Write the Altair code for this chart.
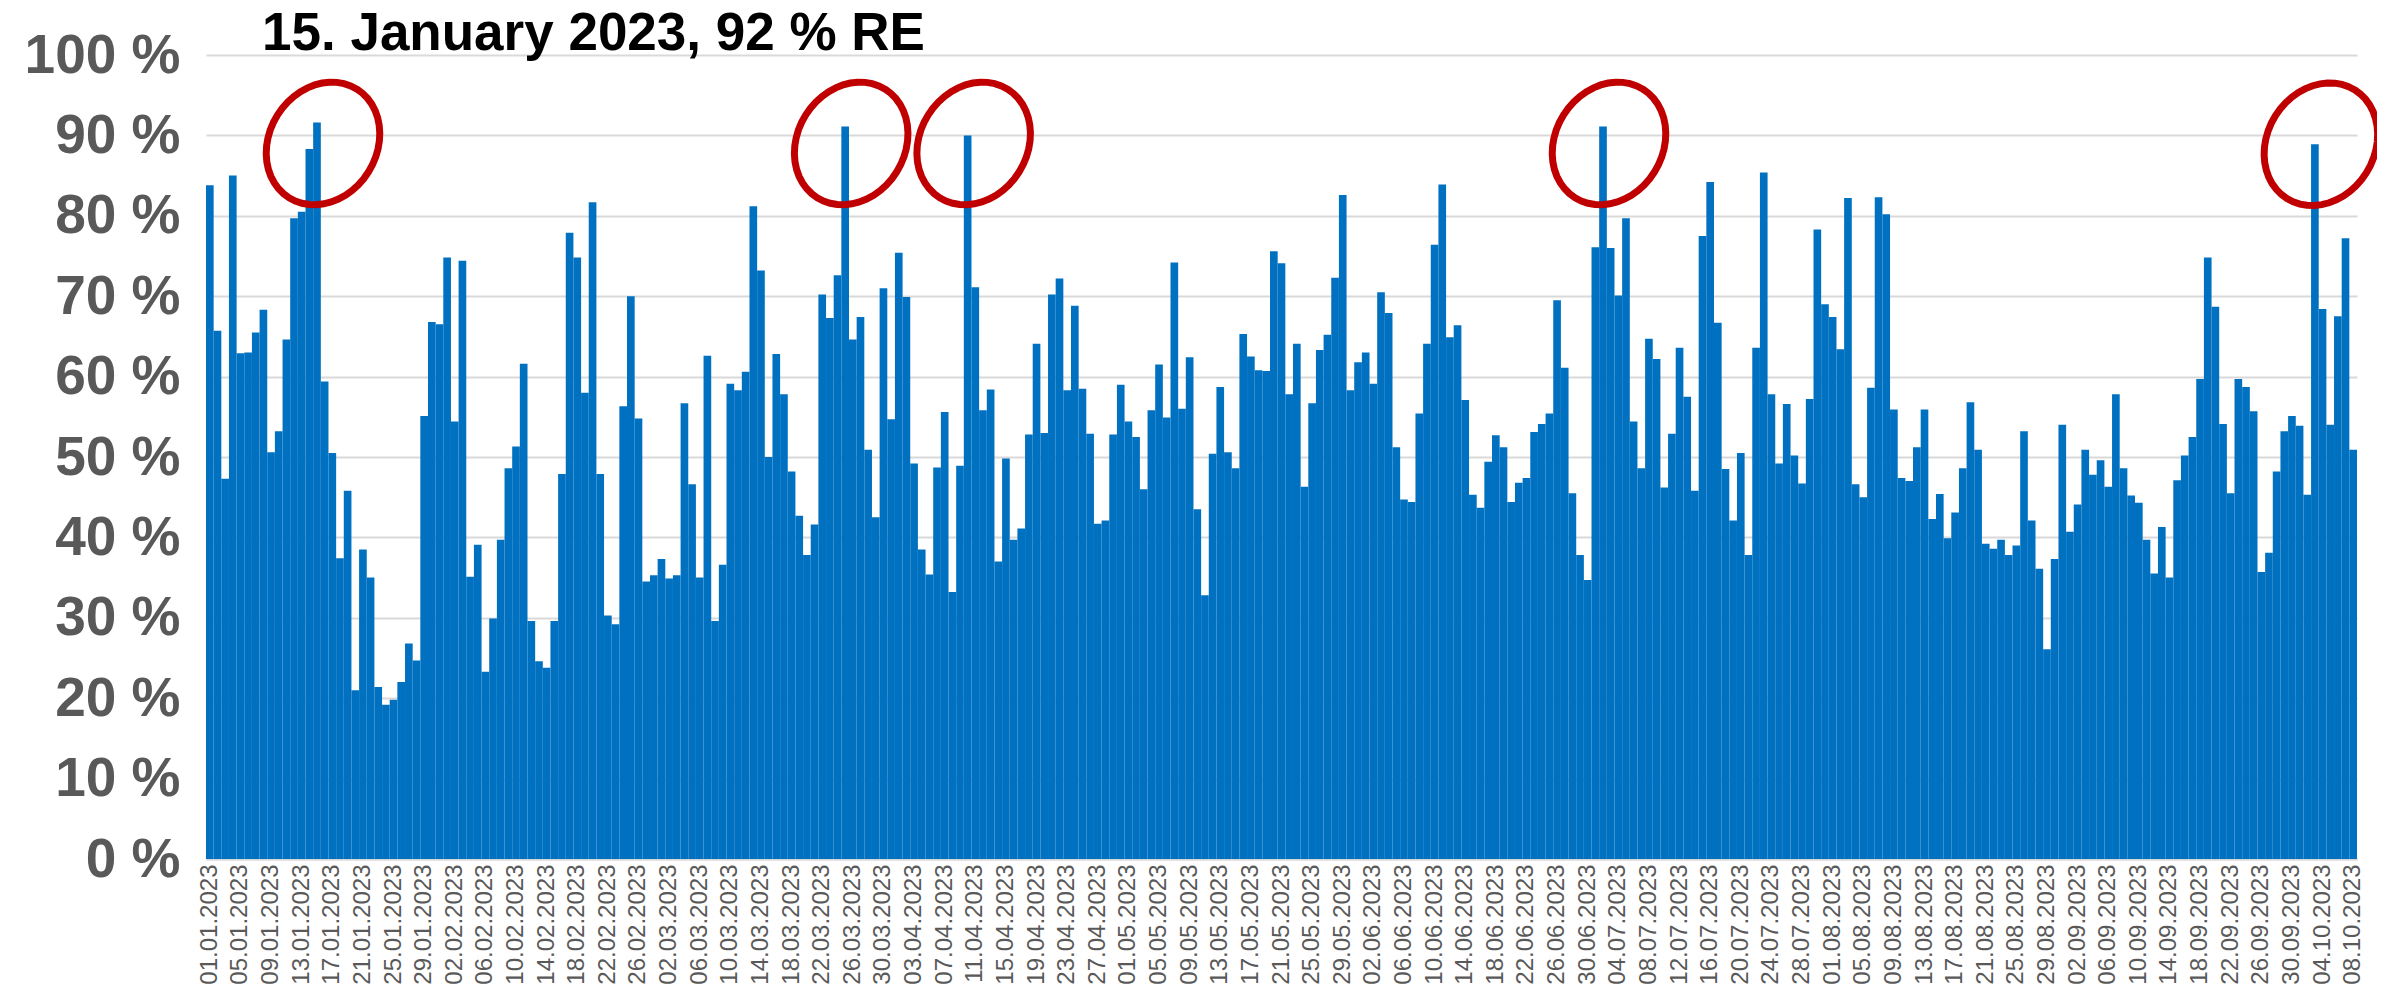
import math
import altair as alt
import pandas as pd

# daily RE share (%)
jan = [83.8, 65.7, 47.3, 85.0, 62.9, 63.0, 65.5, 68.3, 50.6, 53.2, 64.6, 79.7, 80.5, 88.3, 91.6,
       59.4, 50.5, 37.4, 45.8, 21.0, 38.5, 35.0, 21.4, 19.2, 19.8, 22.0, 26.8, 24.7, 55.1, 66.8, 66.5]
feb = [74.8, 54.4, 74.4, 35.1, 39.1, 23.3, 29.9, 39.7, 48.6, 51.3, 61.6, 29.6, 24.6, 23.8, 29.6,
       47.9, 77.9, 74.8, 58.0, 81.7, 47.9, 30.3, 29.2, 56.3, 70.0, 54.8, 34.5, 35.3]
mar = [37.3, 34.9, 35.3, 56.7, 46.6, 35.0, 62.6, 29.6, 36.6, 59.1, 58.3, 60.6, 81.2, 73.2, 50.0,
       62.8, 57.8, 48.2, 42.7, 37.8, 41.6, 70.2, 67.3, 72.6, 91.1, 64.6, 67.4, 50.9, 42.5, 71.0, 54.7]
apr = [75.4, 69.9, 49.2, 38.5, 35.4, 48.7, 55.6, 33.2, 48.9, 90.0, 71.1, 55.8, 58.4, 37.0, 49.8,
       39.7, 41.1, 52.8, 64.1, 53.0, 70.2, 72.2, 58.3, 68.8, 58.5, 52.9, 41.7, 42.1, 52.8, 59.0]
may = [54.4, 52.5, 46.0, 55.8, 61.5, 54.9, 74.2, 56.0, 62.4, 43.5, 32.8, 50.4, 58.7, 50.6, 48.6,
       65.3, 62.5, 60.8, 60.7, 75.6, 74.1, 57.8, 64.1, 46.3, 56.7, 63.3, 65.2, 72.3, 82.6, 58.3, 61.8]
jun = [63.0, 59.1, 70.5, 67.9, 51.2, 44.7, 44.4, 55.4, 64.1, 76.4, 83.9, 64.9, 66.4, 57.1, 45.3,
       43.7, 49.4, 52.7, 51.2, 44.4, 46.8, 47.4, 53.1, 54.1, 55.4, 69.5, 61.1, 45.5, 37.8, 34.7]
jul = [76.1, 91.1, 76.0, 70.1, 79.7, 54.4, 48.6, 64.7, 62.2, 46.2, 52.9, 63.6, 57.5, 45.8, 77.5,
       84.2, 66.7, 48.5, 42.1, 50.5, 37.8, 63.6, 85.4, 57.8, 49.2, 56.6, 50.2, 46.7, 57.2, 78.3, 69.0]
aug = [67.4, 63.4, 82.2, 46.6, 45.0, 58.6, 82.3, 80.2, 55.9, 47.4, 47.0, 51.2, 55.9, 42.3, 45.4,
       39.9, 43.1, 48.6, 56.8, 50.9, 39.2, 38.6, 39.7, 37.8, 39.0, 53.2, 42.1, 36.1, 26.1, 37.3, 54.0]
sep = [40.7, 44.1, 50.9, 47.8, 49.6, 46.3, 57.8, 48.6, 45.2, 44.3, 39.7, 35.5, 41.3, 35.0, 47.1,
       50.2, 52.5, 59.7, 74.8, 68.7, 54.1, 45.5, 59.7, 58.7, 55.7, 35.7, 38.1, 48.2, 53.2, 55.1]
oct_ = [53.9, 45.3, 88.9, 68.4, 54.0, 67.5, 77.2, 50.9]

values = jan + feb + mar + apr + may + jun + jul + aug + sep + oct_
dates = [d.strftime("%d.%m.%Y") for d in pd.date_range("2023-01-01", "2023-10-08", freq="D")]
label_dates = dates[::4]
y_ticks = list(range(0, 101, 10))
circled = ["15.01.2023", "25.03.2023", "10.04.2023", "02.07.2023", "03.10.2023"]
title_text = "15. January 2023, 92 % RE"

df = pd.DataFrame({"date": dates, "re": values})
circ_df = df[df["date"].isin(circled)]

x_enc = alt.X("date:N", sort=dates,
              scale=alt.Scale(paddingInner=0, paddingOuter=0),
              axis=alt.Axis(values=label_dates, labelAngle=270, labelFontSize=24,
                            labelFont="Liberation Sans", labelColor="#595959",
                            labelPadding=5, ticks=False, domain=True,
                            domainColor="#d9d9d9", domainWidth=2, title=None, grid=False))
y_enc = alt.Y("re:Q", scale=alt.Scale(domain=[0, 100], nice=False),
              axis=alt.Axis(values=y_ticks, labelExpr="datum.value + ' %'",
                            labelFontSize=55, labelFont="Liberation Sans",
                            labelFontWeight="bold", labelColor="#595959",
                            labelPadding=26, ticks=False, domain=False,
                            grid=True, gridColor="#d9d9d9", gridWidth=2, title=None))

bars = alt.Chart(df).mark_bar(color="#0070C0").encode(x=x_enc, y=y_enc)

# tilted ellipse outline used as the symbol shape of the hand-drawn circles
theta = math.radians(32)
ua = (math.sin(theta), -math.cos(theta))
va = (math.cos(theta), math.sin(theta))
A, B = 1.05, 0.88
pts = []
for k in range(48):
    t = 2 * math.pi * k / 48
    px = A * math.cos(t) * ua[0] + B * math.sin(t) * va[0]
    py = A * math.cos(t) * ua[1] + B * math.sin(t) * va[1]
    pts.append(f"{px:.4f},{py:.4f}")
ellipse = "M " + " L ".join(pts) + " Z"

circles = alt.Chart(circ_df).transform_calculate(
    level="min(datum.re, 89.0)"
).mark_point(
    shape=ellipse, size=122 * 122, filled=False, stroke="#C00000",
    strokeWidth=7, xOffset=6, opacity=1
).encode(x=alt.X("date:N", sort=dates), y=alt.Y("level:Q"))

chart = alt.layer(bars, circles).properties(
    width=2151, height=804,
    title=alt.TitleParams(title_text, anchor="start", frame="group", dx=56, fontSize=53,
                          font="Liberation Sans", fontWeight="bold", color="black",
                          offset=-33),
    autosize=alt.AutoSizeParams(type="none"),
    padding={"left": 198, "top": 47, "right": 20, "bottom": 134},
).configure_view(stroke=None)

chart.save("out.html", embed_options={"renderer": "svg", "actions": False})
